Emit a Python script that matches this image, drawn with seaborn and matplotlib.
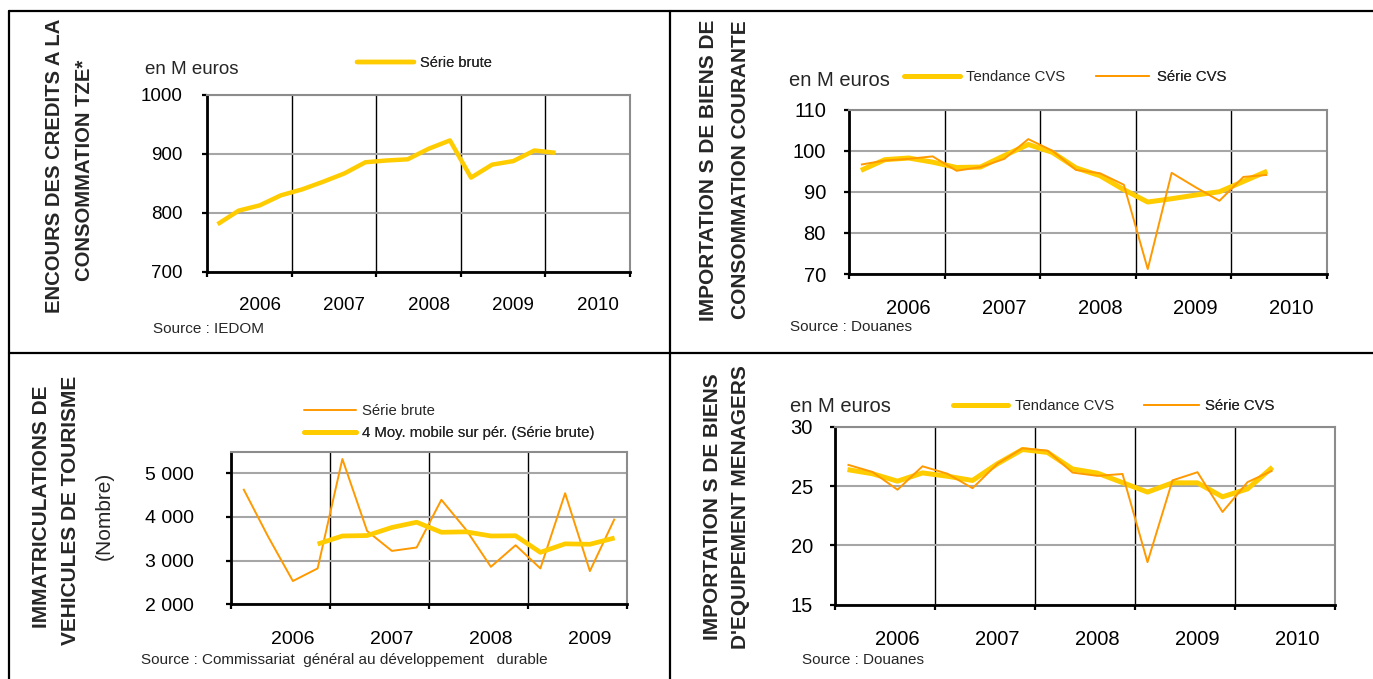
import numpy as np
import matplotlib
matplotlib.use("Agg")
import matplotlib.pyplot as plt
from matplotlib.lines import Line2D
from matplotlib.ticker import FuncFormatter
import seaborn as sns

# ---------------------------------------------------------------- data
years_5 = ["2006", "2007", "2008", "2009", "2010"]
years_4 = ["2006", "2007", "2008", "2009"]

# Encours des crédits à la consommation (M euros), trimestriel 2006T1-2010T1
credits_brute = [781, 804, 813, 830, 840, 853, 867, 886, 889, 891,
                 909, 923, 860, 882, 888, 906, 902]

# Importations de biens de consommation courante (M euros), 2006T1-2010T2
conso_tendance = [95.2, 97.8, 98.2, 97.2, 95.9, 96.0, 98.8, 101.5, 99.6,
                  95.8, 93.9, 90.5, 87.5, 88.3, 89.2, 90.0, 92.5, 95.0]
conso_cvs = [96.6, 97.6, 98.0, 98.6, 95.1, 96.0, 98.0, 102.8, 100.0,
             95.3, 94.5, 91.7, 71.2, 94.6, 91.1, 87.8, 93.6, 94.1]

# Immatriculations de véhicules de tourisme (nombre), 2006T1-2009T4
vp_brute = [4645, 3550, 2533, 2822, 5328, 3679, 3223, 3301,
            4394, 3706, 2859, 3353, 2822, 4544, 2761, 3961]
vp_moy_mobile = [np.nan, np.nan, np.nan, 3380, 3565, 3575, 3760, 3880,
                 3650, 3660, 3565, 3570, 3190, 3385, 3375, 3520]

# Importations de biens d'équipement ménagers (M euros), 2006T1-2010T2
menagers_tendance = [26.4, 26.05, 25.42, 26.12, 25.84, 25.48, 26.9, 28.1, 27.85,
                     26.45, 26.1, 25.3, 24.5, 25.28, 25.28, 24.1, 24.77, 26.6]
menagers_cvs = [26.82, 26.2, 24.7, 26.68, 26.05, 24.83, 26.9, 28.2, 28.0,
                26.15, 25.87, 26.03, 18.58, 25.49, 26.18, 22.82, 25.34, 26.32]

# ---------------------------------------------------------------- style
sns.set_style("white")
plt.rcParams["font.family"] = ["Liberation Sans", "DejaVu Sans"]

YELLOW = "#FFCC00"
ORANGE = "#FF9900"
GRID = "#A6A6A6"
FRAME = "#8C8C8C"

W, H = 1373, 679
DPI = 100
fig = plt.figure(figsize=(W / DPI, H / DPI), dpi=DPI, facecolor="white")
PT = 72.0 / DPI  # points per pixel


def fx(px):
    return px / W


def fy(py):
    return 1.0 - py / H


def add_axes(left, top, right, bottom):
    return fig.add_axes([fx(left), fy(bottom), (right - left) / W, (bottom - top) / H])


def style_axes(ax, nq, ylim, yticks, years, label_gap_px, ytick_gap_px,
               tick_fs, year_fs, fmt=None):
    ax.set_xlim(-0.5, nq - 0.5)
    ax.set_ylim(*ylim)
    ax.set_yticks(yticks)
    if fmt is not None:
        ax.yaxis.set_major_formatter(FuncFormatter(fmt))
    ax.set_xticks(np.arange(-0.5, nq, 4))
    ax.set_xticklabels([])
    ax.set_xlabel("")
    ax.set_ylabel("")
    ax.set_axisbelow(True)
    ax.grid(False)
    ax.yaxis.grid(True, color=GRID, lw=1.5)
    ax.xaxis.grid(True, color="black", lw=1.0)
    for s in ("left", "bottom"):
        ax.spines[s].set_color("black")
        ax.spines[s].set_linewidth(2.0)
    for s in ("top", "right"):
        ax.spines[s].set_color(FRAME)
        ax.spines[s].set_linewidth(1.5)
    tick_len = 5
    ax.tick_params(axis="both", which="major", direction="out", length=tick_len * PT,
                   width=1.6, color="black", labelsize=tick_fs, labelcolor="black",
                   left=True, bottom=True)
    ax.tick_params(axis="y", pad=(ytick_gap_px - tick_len) * PT)
    for k, lab in enumerate(years):
        ax.annotate(lab, xy=(4 * k + 2, 0), xycoords=("data", "axes fraction"),
                    xytext=(0, -label_gap_px * PT), textcoords="offset points",
                    ha="center", va="center", fontsize=year_fs, color="black")


def legend_entry(ax, handle, label, x0, x1, y, gap, fs):
    fs_px = fs / PT
    leg = ax.legend([handle], [label], loc="center left",
                    bbox_to_anchor=(fx(x0), fy(y)), bbox_transform=fig.transFigure,
                    frameon=False, borderpad=0, borderaxespad=0,
                    handlelength=(x1 - x0) / fs_px, handletextpad=gap / fs_px,
                    fontsize=fs)
    ax.add_artist(leg)


def ftext(x, y, s, **kw):
    fig.text(fx(x), fy(y), s, **kw)


def thousands(v, _):
    return f"{int(v):,}".replace(",", "\u00a0")


# ---------------------------------------------------------------- table frame
for (x0, y0, x1, y1) in [(9, 11, 1373, 11), (9, 353, 1373, 353),
                         (9, 11, 9, 679), (670, 11, 670, 679)]:
    fig.add_artist(Line2D([fx(x0), fx(x1)], [fy(y0), fy(y1)], color="black",
                          lw=1.6, transform=fig.transFigure))

# ---------------------------------------------------------------- panel 1
ax1 = add_axes(207, 95, 629.5, 272)
q1 = np.arange(len(credits_brute))
sns.lineplot(x=q1, y=credits_brute, ax=ax1, color=YELLOW, lw=3.2, legend=False)
style_axes(ax1, 20, (700, 1000), [700, 800, 900, 1000], years_5,
           33, 24, 13.5, 13.5)
legend_entry(ax1, ax1.lines[0], "Série brute", 357, 414, 63, 6, 10.5)
ftext(145, 74, "en M euros", fontsize=13.5, va="baseline", ha="left")
ftext(153, 333, "Source : IEDOM", fontsize=11, va="baseline", ha="left")
ftext(55, 166, "ENCOURS DES CREDITS A LA", fontsize=14.6, fontweight="bold",
      rotation=90, ha="center", va="center")
ftext(84, 170, "CONSOMMATION TZE*", fontsize=14.6, fontweight="bold",
      rotation=90, ha="center", va="center")

# ---------------------------------------------------------------- panel 2
ax2 = add_axes(849, 109.5, 1327, 274)
q2 = np.arange(len(conso_cvs))
sns.lineplot(x=q2, y=conso_tendance, ax=ax2, color=YELLOW, lw=3.6, legend=False)
sns.lineplot(x=q2, y=conso_cvs, ax=ax2, color=ORANGE, lw=1.4, legend=False)
style_axes(ax2, 20, (70, 110), [70, 80, 90, 100, 110], years_5,
           34, 23, 14.5, 14.5)
legend_entry(ax2, ax2.lines[0], "Tendance CVS", 904, 960, 77, 6, 10.7)
legend_entry(ax2, ax2.lines[1], "Série CVS", 1096, 1149, 77, 8, 10.7)
ftext(789, 86, "en M euros", fontsize=14.5, va="baseline", ha="left")
ftext(790, 331, "Source : Douanes", fontsize=11, va="baseline", ha="left")
ftext(708, 170, "IMPORTATION S DE BIENS DE", fontsize=15, fontweight="bold",
      rotation=90, ha="center", va="center")
ftext(740, 170, "CONSOMMATION COURANTE", fontsize=15, fontweight="bold",
      rotation=90, ha="center", va="center")

# ---------------------------------------------------------------- panel 3
ax3 = add_axes(231, 451.5, 627, 604.3)
q3 = np.arange(len(vp_brute))
sns.lineplot(x=q3, y=vp_brute, ax=ax3, color=ORANGE, lw=1.4, legend=False)
sns.lineplot(x=q3, y=vp_moy_mobile, ax=ax3, color=YELLOW, lw=3.4, legend=False)
style_axes(ax3, 16, (2000, 5500), [2000, 3000, 4000, 5000], years_4,
           35.5, 37, 14, 14, fmt=thousands)
legend_entry(ax3, ax3.lines[0], "Série brute", 304, 356, 411, 6, 10.7)
legend_entry(ax3, ax3.lines[1], "4 Moy. mobile sur pér. (Série brute)", 304, 356, 433, 6, 10.7)
ftext(141, 664, "Source : Commissariat  général au développement   durable",
      fontsize=11, va="baseline", ha="left")
ftext(42, 507, "IMMATRICULATIONS DE", fontsize=15, fontweight="bold",
      rotation=90, ha="center", va="center")
ftext(71, 510, "VEHICULES DE TOURISME", fontsize=15, fontweight="bold",
      rotation=90, ha="center", va="center")
ftext(104, 516, "(Nombre)", fontsize=15, rotation=90, ha="center", va="center")

# ---------------------------------------------------------------- panel 4
ax4 = add_axes(835, 427, 1335, 604.5)
q4 = np.arange(len(menagers_cvs))
sns.lineplot(x=q4, y=menagers_tendance, ax=ax4, color=YELLOW, lw=3.6, legend=False)
sns.lineplot(x=q4, y=menagers_cvs, ax=ax4, color=ORANGE, lw=1.4, legend=False)
style_axes(ax4, 20, (15, 30), [15, 20, 25, 30], years_5,
           35, 22, 14.5, 14.5)
legend_entry(ax4, ax4.lines[0], "Tendance CVS", 953, 1008, 406, 7, 10.7)
legend_entry(ax4, ax4.lines[1], "Série CVS", 1144, 1199, 406, 6, 10.7)
ftext(790, 412, "en M euros", fontsize=14.5, va="baseline", ha="left")
ftext(802, 664, "Source : Douanes", fontsize=11, va="baseline", ha="left")
ftext(712, 507, "IMPORTATION S DE BIENS", fontsize=15, fontweight="bold",
      rotation=90, ha="center", va="center")
ftext(741, 507, "D'EQUIPEMENT MENAGERS", fontsize=15, fontweight="bold",
      rotation=90, ha="center", va="center")

for ax in (ax1, ax2, ax3, ax4):
    for ln in ax.lines:
        ln.set_solid_joinstyle("round")
        ln.set_solid_capstyle("butt")

fig.savefig("out.png", dpi=DPI, facecolor="white")
